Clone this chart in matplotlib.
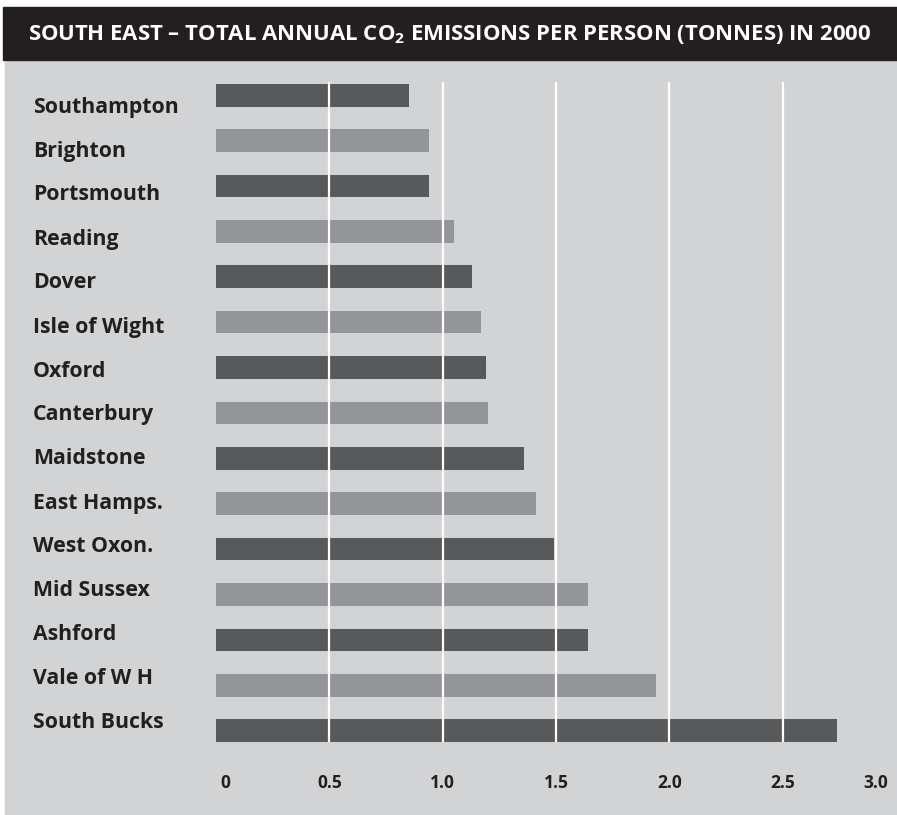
import matplotlib
matplotlib.use('agg')
import matplotlib.pyplot as plt
from matplotlib.patches import Rectangle
from matplotlib.transforms import ScaledTranslation

# values
places = ["Southampton", "Brighton", "Portsmouth", "Reading", "Dover",
          "Isle of Wight", "Oxford", "Canterbury", "Maidstone", "East Hamps.",
          "West Oxon.", "Mid Sussex", "Ashford", "Vale of W H", "South Bucks"]
emissions = [0.85, 0.94, 0.94, 1.05, 1.13, 1.17, 1.19, 1.20, 1.36, 1.41,
             1.49, 1.64, 1.64, 1.94, 2.74]
tick_values = [0, 0.5, 1.0, 1.5, 2.0, 2.5, 3.0]
tick_labels = ["0", "0.5", "1.0", "1.5", "2.0", "2.5", "3.0"]
title = "SOUTH EAST \u2013 TOTAL ANNUAL CO$_\\mathbf{2}$ EMISSIONS PER PERSON (TONNES) IN 2000"

dark = "#58595b"
light = "#939598"
panel = "#d1d3d4"
ink = "#231f20"

plt.rcParams["font.family"] = "Open Sans"
plt.rcParams["mathtext.fontset"] = "custom"
plt.rcParams["mathtext.rm"] = "Open Sans:bold"
plt.rcParams["mathtext.bf"] = "Open Sans:bold"

W, H = 897, 815
fig = plt.figure(figsize=(W / 100, H / 100), dpi=100)
fig.patch.set_facecolor("white")

# background panel and title bar (pixel coords -> figure fraction)
fig.patches.append(Rectangle((5 / W, 0), 1 - 5 / W, 1 - 60 / H,
                             transform=fig.transFigure, color=panel, zorder=-2))
fig.patches.append(Rectangle((3 / W, 1 - 60 / H), 1 - 3 / W, 53 / H,
                             transform=fig.transFigure, color=ink, zorder=-2))
fig.text(450 / W, 1 - 34 / H, title, color="white", fontsize=15.9,
         fontweight="bold", ha="center", va="center")

# plot area: x 0 at px 216, 1 unit = 226.7 px; y from px 82 to 742
x0 = 216
unit = 226.7
ax = fig.add_axes([x0 / W, 1 - 742 / H, 3 * unit / W, (742 - 82) / H])
ax.set_facecolor("none")

ypos = list(range(len(places)))
colors = [dark if i % 2 == 0 else light for i in ypos]
ax.barh(ypos, emissions, height=0.5, color=colors, zorder=1)
ax.set_xlim(0, 3.0)
ax.set_ylim(14.25, -0.29)

for v in tick_values[1:-1]:
    ax.axvline(v, color="white", lw=1.6, zorder=2)

for s in ax.spines.values():
    s.set_visible(False)
ax.set_yticks([])
ax.set_xticks(tick_values)
ax.set_xticklabels(tick_labels, fontsize=12.5, fontweight="bold", color=ink)
ax.tick_params(axis="x", length=0, pad=23)
lbls = ax.get_xticklabels()
lbls[0].set_ha("left")
lbls[0].set_transform(lbls[0].get_transform() + ScaledTranslation(0.04, 0, fig.dpi_scale_trans))
lbls[-1].set_ha("right")
lbls[-1].set_transform(lbls[-1].get_transform() + ScaledTranslation(-0.08, 0, fig.dpi_scale_trans))

# place labels sit a little off the bar centres in the original
for i, name in enumerate(places):
    fig.text(33 / W, 1 - (107 + 44 * i) / H, name, fontsize=15.3,
             fontweight="bold", color=ink, ha="left", va="center")

fig.savefig("out.png", dpi=100, facecolor=fig.get_facecolor())
